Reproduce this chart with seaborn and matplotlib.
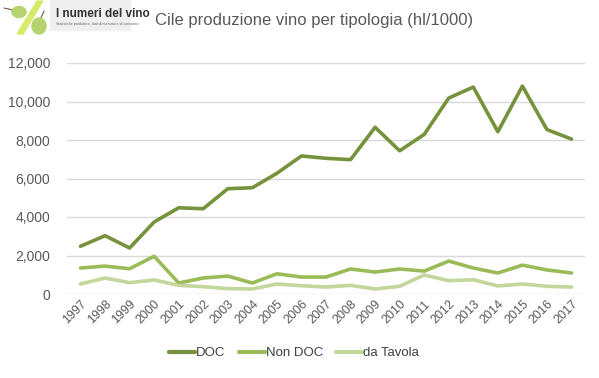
import pandas as pd
import seaborn as sns
import matplotlib.pyplot as plt
from matplotlib.patches import Rectangle, Polygon, Ellipse
from matplotlib.lines import Line2D
from matplotlib.ticker import FuncFormatter

years = list(range(1997, 2018))
doc = [2480, 3030, 2390, 3740, 4480, 4430, 5470, 5520, 6270, 7170, 7050,
       6980, 8660, 7440, 8290, 10180, 10750, 8430, 10800, 8540, 8050]
non_doc = [1350, 1450, 1310, 1960, 570, 830, 930, 570, 1050, 880, 880,
           1300, 1140, 1300, 1190, 1710, 1350, 1090, 1500, 1250, 1090]
da_tavola = [520, 830, 590, 730, 450, 380, 280, 260, 520, 430, 360,
             450, 260, 400, 990, 690, 740, 420, 520, 400, 360]
series = ["DOC", "Non DOC", "da Tavola"]
colors = ["#76923c", "#9bbb59", "#c3d69b"]

df = pd.DataFrame({"anno": years, "DOC": doc, "Non DOC": non_doc, "da Tavola": da_tavola})
long = df.melt(id_vars="anno", var_name="tipo", value_name="hl")
long["anno"] = long["anno"].astype(str)

sns.set_style("white")
plt.rcParams["font.family"] = ["Liberation Sans", "DejaVu Sans"]

W, H = 599, 378
fig = plt.figure(figsize=(W / 100, H / 100), dpi=100)
ax = fig.add_axes([67 / W, 1 - 294 / H, 518 / W, 231 / H])

sns.lineplot(data=long, x="anno", y="hl", hue="tipo", hue_order=series,
             palette=colors, linewidth=2.6, ax=ax, sort=False)

ax.set_ylim(0, 12000)
ax.set_xlim(-0.55, len(years) - 0.45)
ax.set_yticks(range(0, 12001, 2000))
ax.yaxis.set_major_formatter(FuncFormatter(lambda v, p: f"{int(v):,}"))
ax.grid(axis="y", color="#d9d9d9", linewidth=1)
ax.set_axisbelow(True)
for s in ax.spines.values():
    s.set_visible(False)
ax.set_xlabel("")
ax.set_ylabel("")
ax.tick_params(axis="y", length=0, labelsize=10, colors="#595959", pad=12)
ax.tick_params(axis="x", length=0, labelsize=9, colors="#595959", pad=3)
plt.setp(ax.get_xticklabels(), rotation=45, ha="right", rotation_mode="anchor")

ax.get_legend().remove()
handles = [Line2D([], [], color=c, linewidth=3) for c in colors]
leg = fig.legend(handles, series, loc="center", bbox_to_anchor=(294 / W, 1 - 353 / H), ncol=3,
                 frameon=False, fontsize=9.5, handlelength=2.0, handletextpad=0.05,
                 columnspacing=1.0)
for t in leg.get_texts():
    t.set_color("#404040")

fig.text(155 / W, 1 - 20 / H, "Cile produzione vino per tipologia (hl/1000)",
         fontsize=12, color="#595959", va="center", ha="left")

# logo
fig.patches.append(Rectangle((50 / W, 1 - 30 / H), 80 / W, 30 / H,
                             transform=fig.transFigure, color="#efefef", zorder=0))
fig.patches.append(Polygon([(37 / W, 1 - 1 / H), (43 / W, 1 - 1 / H),
                            (23 / W, 1 - 34 / H), (17 / W, 1 - 34 / H)],
                           closed=True, transform=fig.transFigure, color="#d8ea6a", zorder=1))
fig.add_artist(Line2D([4 / W, 13 / W], [1 - 8 / H, 1 - 10 / H],
                      transform=fig.transFigure, color="#6b5a3a", linewidth=0.8))
fig.add_artist(Line2D([40 / W, 44 / W], [1 - 20 / H, 1 - 11 / H],
                      transform=fig.transFigure, color="#6b5a3a", linewidth=0.8))
fig.patches.append(Ellipse((19 / W, 1 - 12 / H), 14 / W, 11 / H, angle=0,
                           transform=fig.transFigure, color="#b5d36e", zorder=2))
fig.patches.append(Ellipse((39 / W, 1 - 26 / H), 14 / W, 16 / H,
                           transform=fig.transFigure, color="#b5d36e", zorder=2))
fig.text(56 / W, 1 - 14 / H, "I numeri del vino", fontsize=8.5, fontweight="bold",
         color="#333333", va="center")
fig.text(56 / W, 1 - 23.5 / H, "Statistiche produttive, dati di mercato e di consumo.",
         fontsize=2.6, color="#666666", va="center")

fig.savefig("out.png", dpi=100)
